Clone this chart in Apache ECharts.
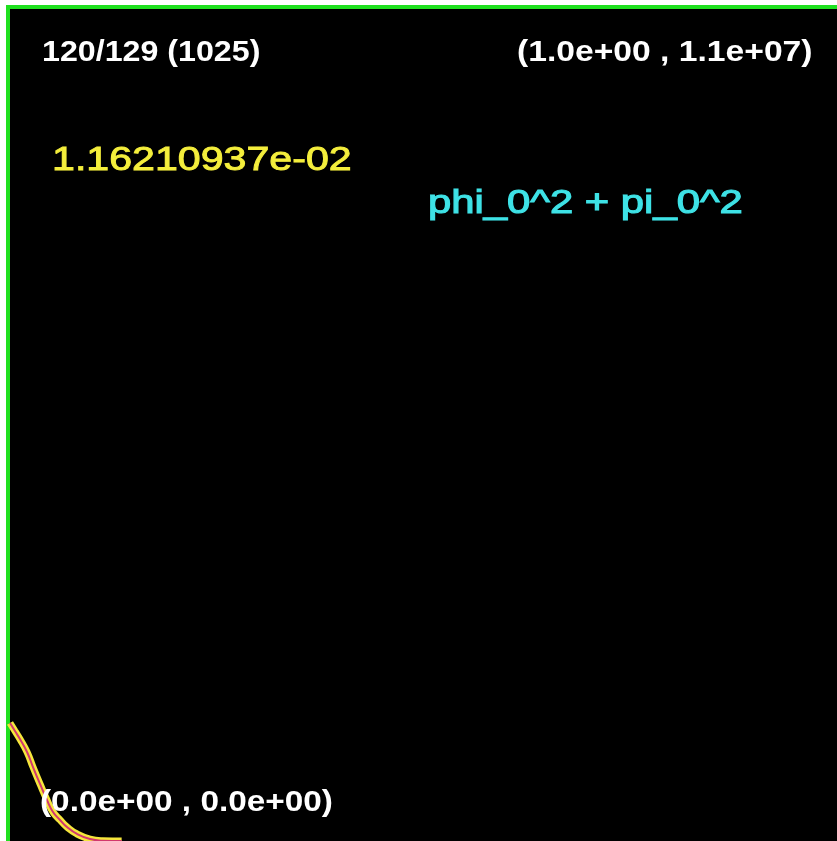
<!DOCTYPE html>
<html>
<head>
<meta charset="utf-8">
<script src="https://cdn.jsdelivr.net/npm/echarts@6/dist/echarts.min.js"></script>
<style>
html,body{margin:0;padding:0;background:#fff;}
#chart{width:837px;height:841px;}
</style>
</head>
<body>
<div id="chart"></div>
<script>
// Data (x in [0,1], y in [0, 1.1e7])
const xValues = [0, 0.006, 0.012, 0.0206, 0.0278, 0.0363, 0.0447, 0.052, 0.0605, 0.0689, 0.081, 0.0967, 0.112, 0.135];
const yValues = [1.56e6, 1.454e6, 1.349e6, 1.177e6, 0.978e6, 0.754e6, 0.542e6, 0.383e6, 0.278e6, 0.185e6, 0.093e6, 0.026e6, 0.004e6, 0];
const xRange = [0, 1.0];
const yRange = [0, 1.1e7];
const frameLabel = '120/129 (1025)';
const maxLabel = '(1.0e+00 , 1.1e+07)';
const minLabel = '(0.0e+00 , 0.0e+00)';
const valueLabel = '1.16210937e-02';
const seriesName = 'phi_0^2 + pi_0^2';

const points = xValues.map((x, i) => [x, yValues[i]]);

const chart = echarts.init(document.getElementById('chart'), null, {renderer: 'canvas'});
const font = "'Liberation Sans', Arial, sans-serif";
chart.setOption({
  backgroundColor: '#ffffff',
  animation: false,
  grid: {left: 10, top: 9, right: 0, bottom: 0, containLabel: false, show: false},
  xAxis: {type: 'value', min: xRange[0], max: xRange[1], show: false},
  yAxis: {type: 'value', min: yRange[0], max: yRange[1], show: false},
  graphic: [
    {type: 'rect', z: -10, silent: true,
     shape: {x: 8, y: 7, width: 900, height: 900},
     style: {fill: '#000000', stroke: '#1fe01f', lineWidth: 4}},
    {type: 'text', x: 42, y: 53, scaleX: 1.11, z: 100,
     style: {text: frameLabel, fill: '#ffffff', font: 'bold 29px ' + font, textAlign: 'left', textVerticalAlign: 'middle'}},
    {type: 'text', x: 517, y: 53, scaleX: 1.16, z: 100,
     style: {text: maxLabel, fill: '#ffffff', font: 'bold 29px ' + font, textAlign: 'left', textVerticalAlign: 'middle'}},
    {type: 'text', x: 40, y: 803, scaleX: 1.15, z: 100,
     style: {text: minLabel, fill: '#ffffff', font: 'bold 29px ' + font, textAlign: 'left', textVerticalAlign: 'middle'}},
    {type: 'text', x: 52, y: 161, scaleX: 1.21, z: 100,
     style: {text: valueLabel, fill: '#f4ee3c', stroke: '#f4ee3c', lineWidth: 0.9, font: '34px ' + font, textAlign: 'left', textVerticalAlign: 'middle'}},
    {type: 'text', x: 428, y: 204, scaleX: 1.23, z: 100,
     style: {text: seriesName, fill: '#3ee2e6', stroke: '#3ee2e6', lineWidth: 1.1, font: '34px ' + font, textAlign: 'left', textVerticalAlign: 'middle'}}
  ],
  series: [
    {type: 'line', data: points, showSymbol: false, smooth: true, clip: true,
     lineStyle: {color: '#f5e63c', width: 7}, z: 2},
    {type: 'line', data: points, showSymbol: false, smooth: true, clip: true,
     lineStyle: {color: '#d2386e', width: 2}, z: 3}
  ]
});
</script>
</body>
</html>
